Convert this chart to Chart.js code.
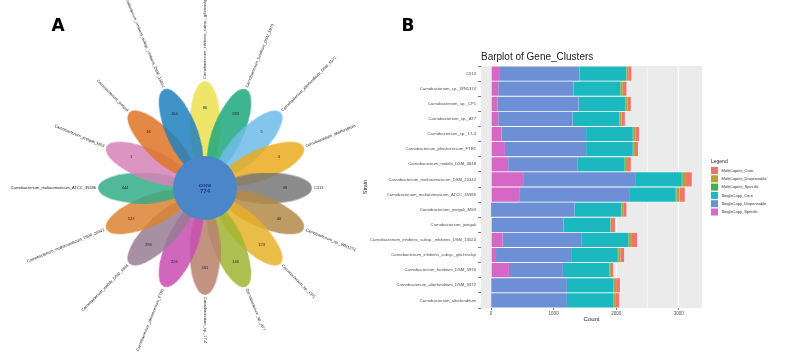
<!DOCTYPE html>
<html>
<head>
<meta charset="utf-8">
<script src="https://cdn.jsdelivr.net/npm/chart.js@4.4.1/dist/chart.umd.min.js"></script>
<style>
  body { margin: 0; background: #fff; width: 786px; height: 353px; overflow: hidden; position: relative; }
  canvas { position: absolute; top: 0; }
  #flower { left: 0; }
  #bars { left: 360px; }
</style>
</head>
<body>
<canvas id="flower" width="393" height="353"></canvas>
<canvas id="bars" width="426" height="353"></canvas>
<script>
// ---- panel A: flower plot (petals clockwise from the top) ----
const strains = [
  'Carnobacterium_inhibens_subsp._gilichinskyi',
  'Carnobacterium_funditum_DSM_5970',
  'Carnobacterium_alterfunditum_DSM_5972',
  'Carnobacterium_alterfunditum',
  'C513',
  'Carnobacterium_sp._WN1374',
  'Carnobacterium_sp._CP1',
  'Carnobacterium_sp._AT7',
  'Carnobacterium_sp._17-4',
  'Carnobacterium_pleistocenium_FTR1',
  'Carnobacterium_mobile_DSM_4848',
  'Carnobacterium_maltaromaticum_DSM_20342',
  'Carnobacterium_maltaromaticum_ATCC_35586',
  'Carnobacterium_jeotgali_MS3',
  'Carnobacterium_jeotgali',
  'Carnobacterium_inhibens_subsp._inhibens_DSM_13024'
];
const petalCounts = [86, 283, 5, 4, 98, 40, 123, 140, 161, 226, 293, 522, 444, 1, 16, 164];
const petalColors = [
  'rgba(236,224,80,0.85)', 'rgba(28,168,124,0.85)', 'rgba(110,188,232,0.85)', 'rgba(234,170,30,0.85)',
  'rgba(120,120,120,0.85)', 'rgba(178,138,70,0.85)', 'rgba(230,176,40,0.85)', 'rgba(160,180,50,0.85)',
  'rgba(184,128,108,0.85)', 'rgba(200,76,176,0.85)', 'rgba(150,124,146,0.85)', 'rgba(220,130,50,0.85)',
  'rgba(52,172,136,0.85)', 'rgba(214,130,184,0.85)', 'rgba(222,116,36,0.85)', 'rgba(30,128,190,0.85)'
];
const coreLabel = 'core';
const coreCount = 774;

// ---- panel B: stacked bars ----
const categories = [
  'C513',
  'Carnobacterium_sp._WN1374',
  'Carnobacterium_sp._CP1',
  'Carnobacterium_sp._AT7',
  'Carnobacterium_sp._17-4',
  'Carnobacterium_pleistocenium_FTR1',
  'Carnobacterium_mobile_DSM_4848',
  'Carnobacterium_maltaromaticum_DSM_20342',
  'Carnobacterium_maltaromaticum_ATCC_35586',
  'Carnobacterium_jeotgali_MS3',
  'Carnobacterium_jeotgali',
  'Carnobacterium_inhibens_subsp._inhibens_DSM_13024',
  'Carnobacterium_inhibens_subsp._gilichinskyi',
  'Carnobacterium_funditum_DSM_5970',
  'Carnobacterium_alterfunditum_DSM_5972',
  'Carnobacterium_alterfunditum'
];
const scSpecific    = [143, 116, 106, 116, 169, 222, 275, 513, 450, 1, 16, 185, 80, 286, 5, 4];
const scDispensable = [1270, 1202, 1291, 1186, 1350, 1297, 1111, 1789, 1756, 1332, 1143, 1265, 1200, 862, 1207, 1208];
const scCore        = [745, 745, 745, 745, 745, 745, 745, 745, 745, 745, 745, 745, 745, 745, 745, 745];
const mcSpecific    = [6, 8, 6, 7, 8, 6, 9, 14, 12, 6, 5, 10, 8, 4, 8, 7];
const mcDispensable = [28, 33, 30, 30, 33, 28, 33, 52, 47, 28, 24, 45, 33, 18, 33, 30];
const mcCore        = [51, 60, 55, 54, 60, 51, 60, 93, 85, 52, 46, 83, 61, 37, 60, 54];
const countTicks = [0, 500, 1000, 1500, 2000, 2500, 3000];

const FONT = '"Liberation Sans", Arial, sans-serif';

// petal shape as a point style
function petalImage(color) {
  const c = document.createElement('canvas');
  c.width = 88; c.height = 31;
  const g = c.getContext('2d');
  g.fillStyle = color;
  g.beginPath();
  g.ellipse(44, 15.5, 44, 15.5, 0, 0, Math.PI * 2);
  g.fill();
  return c;
}

const petalAngle = strains.map((s, i) => i * 360 / strains.length);
const petalR = 63;
const rad = d => d * Math.PI / 180;

const flowerText = {
  id: 'flowerText',
  afterDatasetsDraw(chart) {
    const { ctx, scales: { x, y } } = chart;
    ctx.save();
    ctx.fillStyle = '#222';
    strains.forEach((name, i) => {
      const a = rad(petalAngle[i]);
      ctx.font = '4px ' + FONT;
      ctx.textAlign = 'center';
      ctx.textBaseline = 'middle';
      ctx.fillText(petalCounts[i], x.getPixelForValue(80 * Math.sin(a)), y.getPixelForValue(80 * Math.cos(a)));

      ctx.save();
      ctx.translate(x.getPixelForValue(109 * Math.sin(a)), y.getPixelForValue(109 * Math.cos(a)));
      if (petalAngle[i] <= 180) {
        ctx.rotate(a - Math.PI / 2);
        ctx.textAlign = 'left';
      } else {
        ctx.rotate(a + Math.PI / 2);
        ctx.textAlign = 'right';
      }
      ctx.fillText(name, 0, 0);
      ctx.restore();
    });
    ctx.fillStyle = '#1d3a80';
    ctx.textAlign = 'center';
    ctx.font = 'bold 6px ' + FONT;
    ctx.fillText(coreLabel, x.getPixelForValue(0), y.getPixelForValue(3));
    ctx.fillText(coreCount, x.getPixelForValue(0), y.getPixelForValue(-3));
    // panel letter
    ctx.fillStyle = '#000';
    ctx.font = 'bold 17px "DejaVu Sans", sans-serif';
    ctx.fillText('A', 58, 27);
    ctx.restore();
  }
};

new Chart(document.getElementById('flower'), {
  type: 'scatter',
  data: {
    datasets: [
      {
        data: [{ x: 0, y: 0 }],
        pointRadius: 32,
        pointBackgroundColor: '#4a86c8',
        pointBorderWidth: 0,
        order: 0
      },
      {
        data: petalAngle.map(d => ({ x: petalR * Math.sin(rad(d)), y: petalR * Math.cos(rad(d)) })),
        pointStyle: petalColors.map(petalImage),
        pointRotation: petalAngle.map(d => d - 90),
        order: 1
      }
    ]
  },
  options: {
    responsive: false,
    animation: false,
    layout: { padding: 0, autoPadding: false },
    plugins: { legend: { display: false }, tooltip: { enabled: false } },
    scales: {
      x: { display: false, min: -205, max: 188 },
      y: { display: false, min: -165, max: 188 }
    }
  },
  plugins: [flowerText]
});

// ---- bar chart ----
const panelBg = {
  id: 'panelBg',
  beforeDraw(chart) {
    const { ctx, chartArea: a } = chart;
    ctx.save();
    ctx.fillStyle = '#ebebeb';
    ctx.fillRect(a.left, a.top, a.right - a.left, a.bottom - a.top);
    ctx.restore();
  }
};

const barText = {
  id: 'barText',
  afterDraw(chart) {
    const { ctx, chartArea: a } = chart;
    ctx.save();
    ctx.fillStyle = '#000';
    ctx.font = 'bold 17px "DejaVu Sans", sans-serif';
    ctx.textAlign = 'center';
    ctx.textBaseline = 'middle';
    ctx.fillText('B', 48, 27);

    ctx.fillStyle = '#222';
    ctx.font = '10px ' + FONT;
    ctx.textAlign = 'left';
    ctx.fillText('Barplot of Gene_Clusters', a.left, 57);

    // legend
    const items = chart.data.datasets.slice().reverse();
    const lx = a.right + 9;
    ctx.font = '5px ' + FONT;
    ctx.fillText('Legend', lx, 161.5);
    ctx.font = '4px ' + FONT;
    items.forEach((ds, i) => {
      const top = 167 + i * 8.3;
      ctx.fillStyle = ds.backgroundColor;
      ctx.fillRect(lx, top, 7, 7);
      ctx.fillStyle = '#333';
      ctx.fillText(ds.label, lx + 10.5, top + 3.7);
    });
    ctx.restore();
  }
};

const barColors = {
  scSpecific: '#d767c6',
  scDispensable: '#6d8fd6',
  scCore: '#1cb8c0',
  mcSpecific: '#3cb44c',
  mcDispensable: '#b8a030',
  mcCore: '#ef756a'
};

const isMajor = c => c.tick && c.tick.value % 1000 === 0;

new Chart(document.getElementById('bars'), {
  type: 'bar',
  data: {
    labels: categories,
    datasets: [
      { label: 'SingleCopy_Specific', data: scSpecific, backgroundColor: barColors.scSpecific },
      { label: 'SingleCopy_Dispensable', data: scDispensable, backgroundColor: barColors.scDispensable },
      { label: 'SingleCopy_Core', data: scCore, backgroundColor: barColors.scCore },
      { label: 'MultiCopies_Specific', data: mcSpecific, backgroundColor: barColors.mcSpecific },
      { label: 'MultiCopies_Dispensable', data: mcDispensable, backgroundColor: barColors.mcDispensable },
      { label: 'MultiCopies_Core', data: mcCore, backgroundColor: barColors.mcCore }
    ]
  },
  options: {
    indexAxis: 'y',
    responsive: false,
    animation: false,
    layout: { padding: { top: 66, right: 84, bottom: 30, left: 0 }, autoPadding: false },
    datasets: {
      bar: {
        barPercentage: 1,
        categoryPercentage: 1,
        borderColor: '#fff',
        borderWidth: { top: 0.8, bottom: 0.8, left: 0, right: 0 },
        borderSkipped: false
      }
    },
    plugins: { legend: { display: false }, tooltip: { enabled: false } },
    scales: {
      x: {
        stacked: true,
        min: -160,
        max: 3370,
        afterBuildTicks: s => { s.ticks = countTicks.map(v => ({ value: v })); },
        afterFit: s => { s.height = 15; },
        border: { display: false },
        grid: {
          color: '#fff',
          lineWidth: c => isMajor(c) ? 1 : 0.5,
          tickLength: 2,
          tickColor: c => isMajor(c) ? '#444' : 'rgba(0,0,0,0)',
          tickWidth: 0.7
        },
        ticks: {
          autoSkip: false,
          maxRotation: 0,
          padding: 1,
          color: '#4d4d4d',
          font: { size: 4.5, family: FONT },
          callback: v => v % 1000 === 0 ? v : ''
        },
        title: { display: true, text: 'Count', color: '#222', padding: 0, font: { size: 6, family: FONT } }
      },
      y: {
        stacked: true,
        afterFit: s => { s.width = 121; },
        border: { display: false },
        grid: { drawOnChartArea: false, tickLength: 3, tickColor: '#444', tickWidth: 0.7 },
        ticks: { autoSkip: false, padding: 2, color: '#4d4d4d', font: { size: 4.2, family: FONT } },
        title: { display: true, text: 'Strain', color: '#222', padding: 2, font: { size: 5.5, family: FONT } }
      }
    }
  },
  plugins: [panelBg, barText]
});
</script>
</body>
</html>
